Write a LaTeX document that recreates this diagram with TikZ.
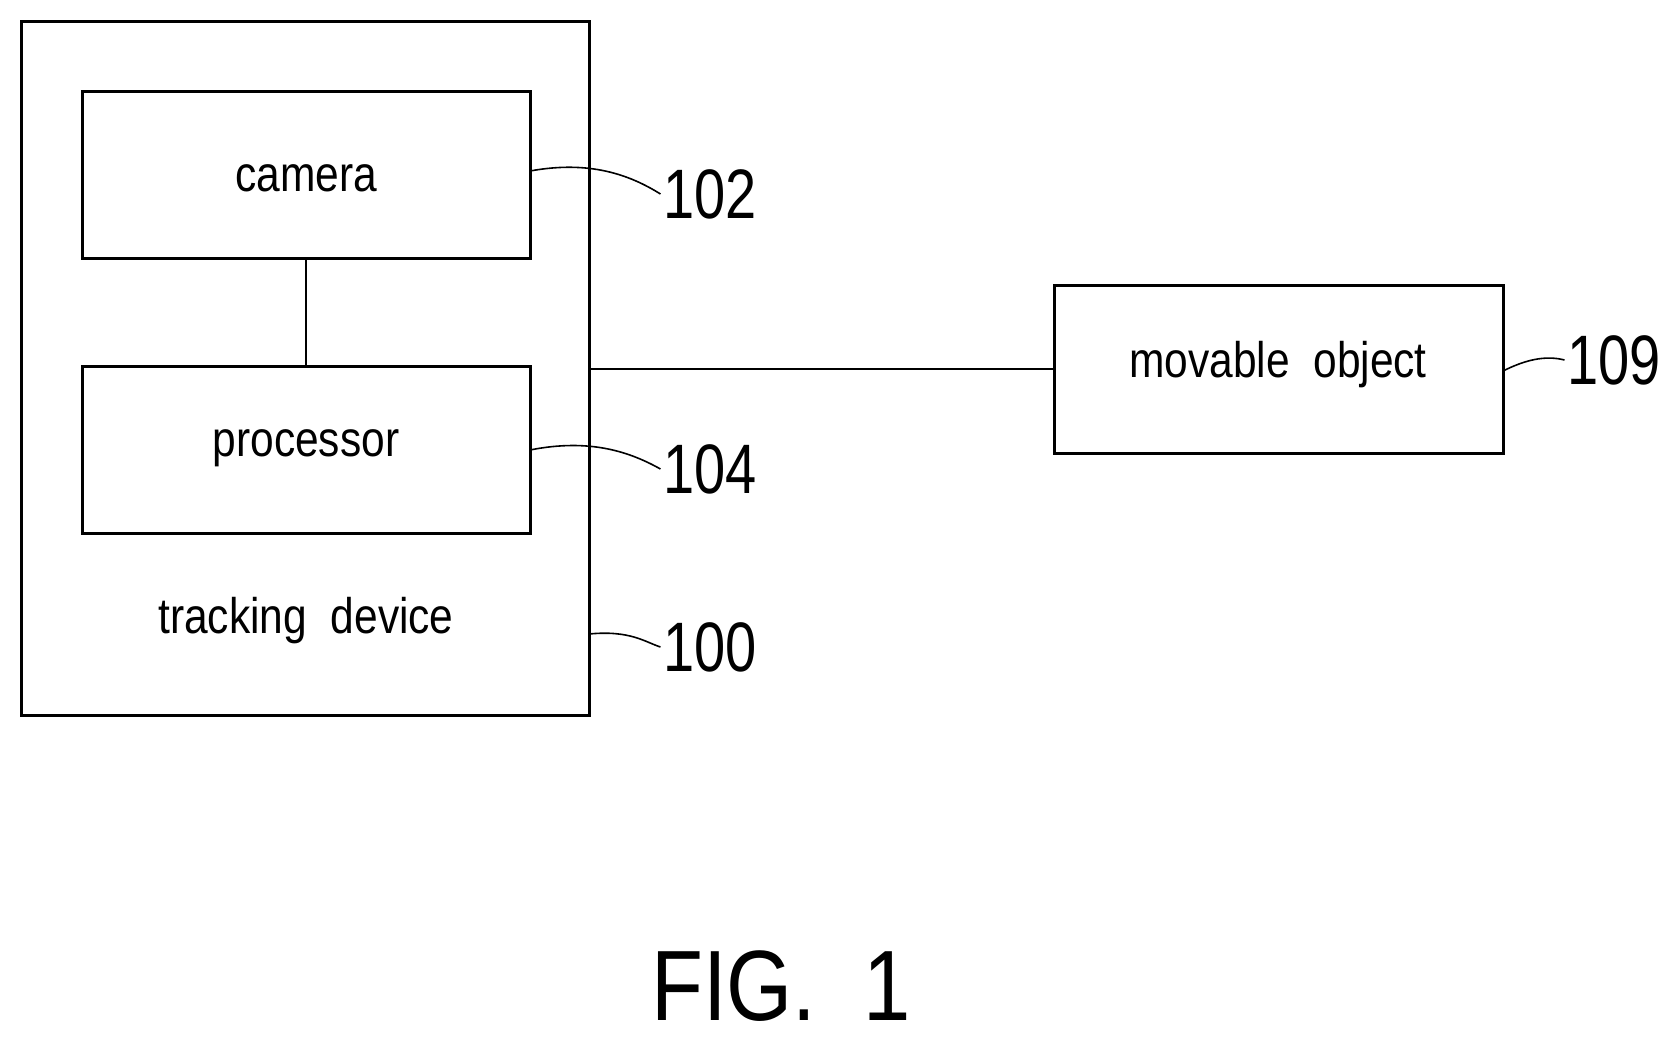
\documentclass[tikz,border=0pt]{standalone}
\usepackage{fontspec}
\setmainfont{Liberation Sans}
\begin{document}
\begin{tikzpicture}[x=1pt,y=-1pt,
  box/.style={draw,line width=3pt},
  lbl/.style={font=\fontsize{50}{50}\selectfont,xscale=0.85},
  num/.style={font=\fontsize{70}{70}\selectfont,xscale=0.8},
  lead/.style={line width=1.6pt}]
\useasboundingbox (0,0) rectangle (1673,1044);
\draw[box] (21,21) rectangle (589,715);
\node[box,minimum width=448pt,minimum height=167pt] (cam) at (306,174.5) {};
\node[box,minimum width=448pt,minimum height=167pt] (proc) at (306,449.5) {};
\node[box,minimum width=449pt,minimum height=168pt] (mov) at (1278.5,369) {};
\coordinate (outR) at (589,369);
\node[lbl] (tcam) at (306,178) {camera};
\node[lbl] (tproc) at (306,448) {processor};
\node[lbl] (ttr) at (306,621) {tracking\ \ device};
\node[lbl] (tmov) at (1278,365) {movable\ \ object};
\draw[line width=2pt] (cam.south) -- (proc.north);
\draw[line width=2pt] (outR) -- (mov.west);
\node[num] (n102) at (710,194) {102};
\node[num] (n104) at (710,469) {104};
\node[num] (n100) at (710,647) {100};
\node[num] (n109) at (1614,360) {109};
\node[font=\fontsize{100}{100}\selectfont,xscale=0.85] (fig) at (781,986) {FIG.\ \ 1};
\draw[lead] (530,171) .. controls (590,160) and (630,175) .. (n102.west);
\draw[lead] (530,450) .. controls (590,438) and (630,452) .. (n104.west);
\draw[lead] (589,634) .. controls (630,630) and (645,642) .. (n100.west);
\draw[lead] (1503,371) .. controls (1525,360) and (1545,355) .. (n109.west);
\end{tikzpicture}
\end{document}
